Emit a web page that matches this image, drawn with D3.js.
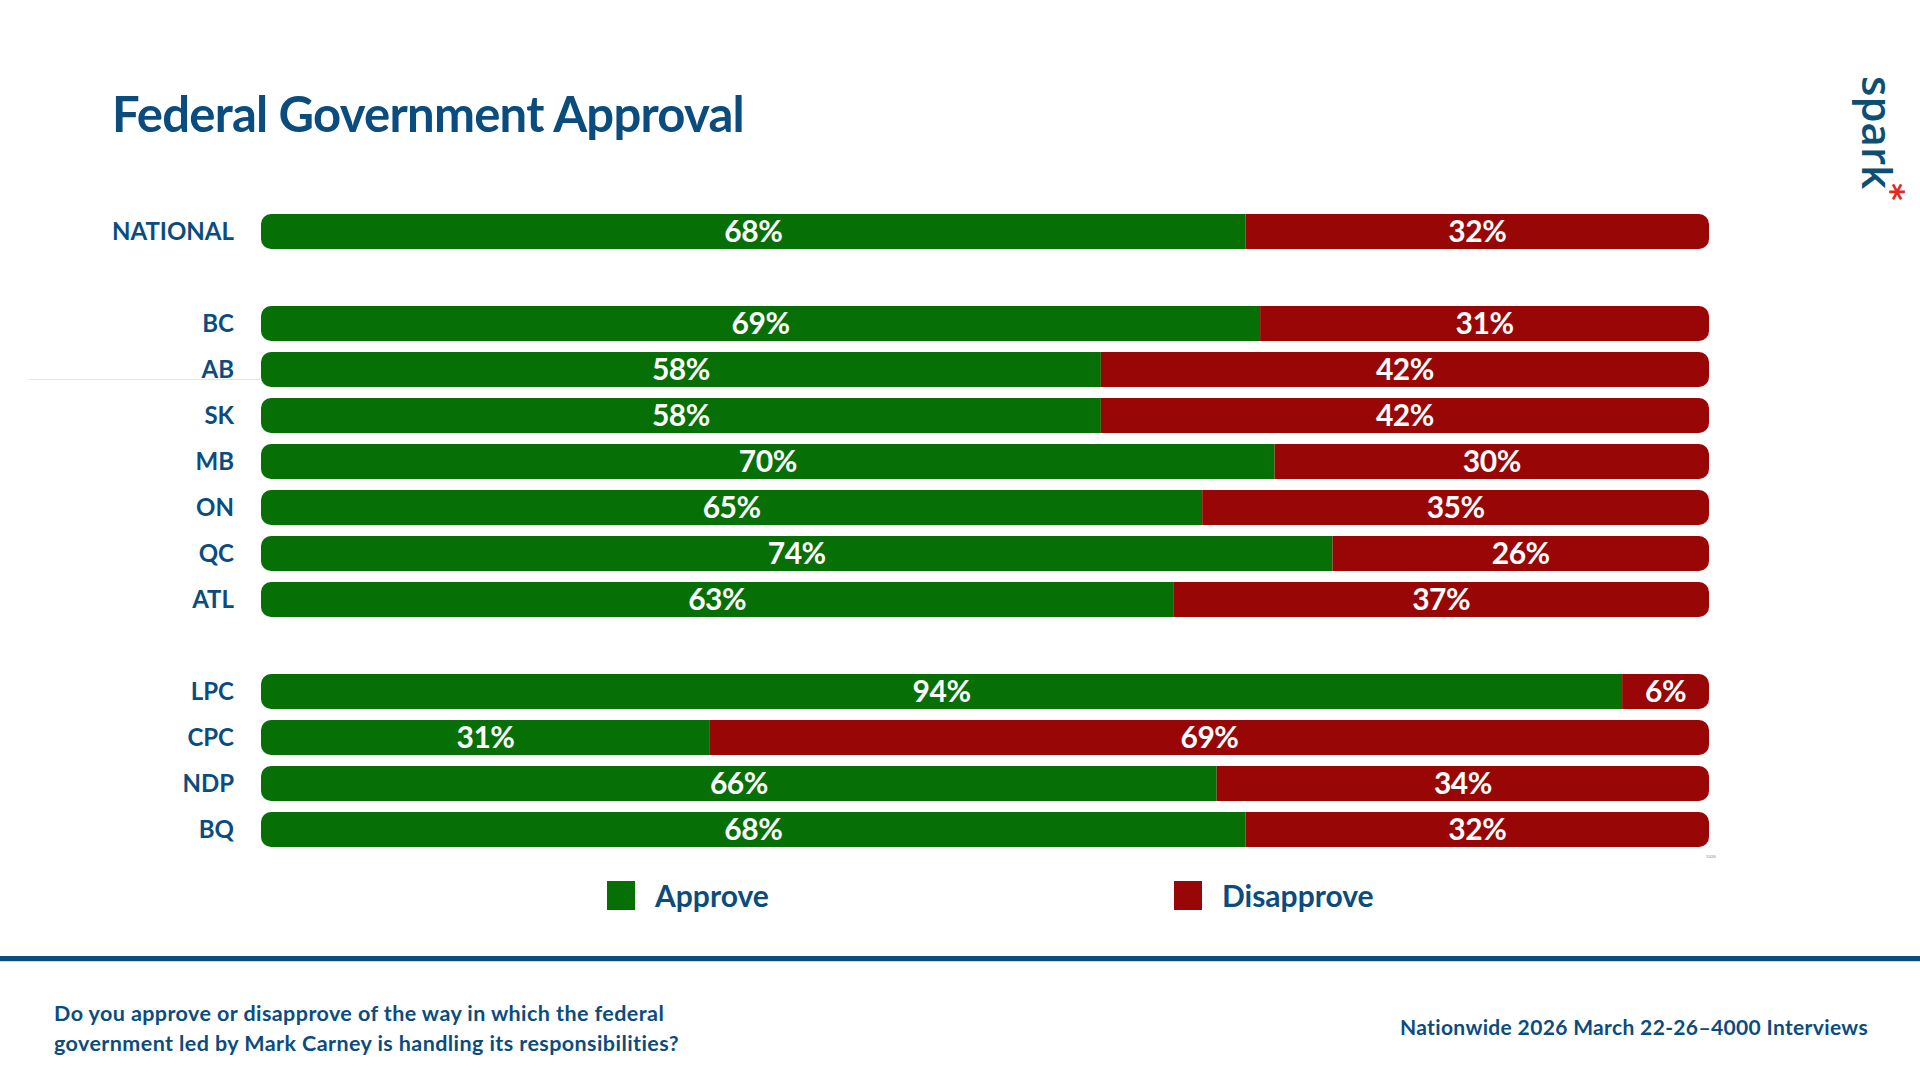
<!DOCTYPE html>
<html>
<head>
<meta charset="utf-8">
<script src="https://cdn.jsdelivr.net/npm/d3@7"></script>
<style>
  body { margin: 0; background: #fff; }
  svg { display: block; }
</style>
</head>
<body>
<svg id="chart"></svg>
<script>
// chart values
const categories = ["NATIONAL", "BC", "AB", "SK", "MB", "ON", "QC", "ATL", "LPC", "CPC", "NDP", "BQ"];
const approve = [68, 69, 58, 58, 70, 65, 74, 63, 94, 31, 66, 68];
const disapprove = [32, 31, 42, 42, 30, 35, 26, 37, 6, 69, 34, 32];
// row slots, with blank spacers between groups
const slots = ["NATIONAL", "_gap1", "BC", "AB", "SK", "MB", "ON", "QC", "ATL", "_gap2", "LPC", "CPC", "NDP", "BQ"];
const seriesNames = ["Approve", "Disapprove"];

const W = 1920, H = 1080;
const navy = "#0b4c7e";
const green = "#067006";
const red = "#990606";
const barH = 35;

const svg = d3.select("#chart").attr("width", W).attr("height", H);

const x = d3.scaleLinear().domain([0, 100]).range([261, 1709]);
const y = d3.scalePoint().domain(slots).range([231.5, 829.5]);
const color = d3.scaleOrdinal().domain(seriesNames).range([green, red]);

// title
svg.append("text")
  .attr("x", 112).attr("y", 132)
  .attr("fill", navy)
  .style("font-family", "Lato, sans-serif")
  .style("font-weight", 700)
  .style("font-size", "49px")
  .style("letter-spacing", "-0.75px")
  .text("Federal Government Approval");

// faint stray line next to AB
svg.append("line")
  .attr("x1", 29).attr("x2", 260).attr("y1", 379.5).attr("y2", 379.5)
  .attr("stroke", "#e2e4ea").attr("stroke-width", 1);

const rows = categories.map((c, i) => ({ cat: c, approve: approve[i], disapprove: disapprove[i] }));

const defs = svg.append("defs");
rows.forEach((d, i) => {
  defs.append("clipPath").attr("id", "clip" + i)
    .append("rect")
    .attr("x", x(0)).attr("y", y(d.cat) - barH / 2)
    .attr("width", x(100) - x(0)).attr("height", barH)
    .attr("rx", 10).attr("ry", 10);
});

const rowG = svg.append("g").selectAll("g")
  .data(rows)
  .join("g")
  .attr("clip-path", (d, i) => "url(#clip" + i + ")");

rowG.each(function (d) {
  const g = d3.select(this);
  const segs = [
    { name: "Approve", x0: 0, x1: d.approve, v: d.approve },
    { name: "Disapprove", x0: d.approve, x1: d.approve + d.disapprove, v: d.disapprove }
  ];
  g.selectAll("rect").data(segs).join("rect")
    .attr("x", s => x(s.x0))
    .attr("width", s => x(s.x1) - x(s.x0))
    .attr("y", y(d.cat) - barH / 2)
    .attr("height", barH)
    .attr("fill", s => color(s.name));
  g.selectAll("text").data(segs).join("text")
    .attr("x", s => (x(s.x0) + x(s.x1)) / 2)
    .attr("y", y(d.cat))
    .attr("dy", "0.36em")
    .attr("text-anchor", "middle")
    .attr("fill", "#fff")
    .style("font-family", "Lato, sans-serif")
    .style("font-weight", 700)
    .style("font-size", "30px")
    .style("letter-spacing", "-0.5px")
    .text(s => s.v + "%");
});

// category labels
svg.append("g").selectAll("text")
  .data(categories)
  .join("text")
  .attr("x", 234)
  .attr("y", d => y(d))
  .attr("dy", "0.36em")
  .attr("text-anchor", "end")
  .attr("fill", navy)
  .style("font-family", "Lato, sans-serif")
  .style("font-weight", 700)
  .style("font-size", "24px")
  .text(d => d);

// tiny tick label under the bars
svg.append("text")
  .attr("x", 1711).attr("y", 858)
  .attr("text-anchor", "middle")
  .attr("fill", "#a08a80")
  .style("font-family", "Lato, sans-serif")
  .style("font-size", "4px")
  .text("100%");

// legend
const legendX = [607, 1174];
const leg = svg.append("g").selectAll("g")
  .data(seriesNames)
  .join("g")
  .attr("transform", (d, i) => "translate(" + legendX[i] + ",881)");
leg.append("rect").attr("width", 28).attr("height", 29).attr("fill", d => color(d));
leg.append("text")
  .attr("x", 48).attr("y", 15).attr("dy", "0.36em")
  .attr("fill", navy)
  .style("font-family", "Lato, sans-serif")
  .style("font-weight", 700)
  .style("font-size", "30px")
  .text(d => d);

// footer rule
svg.append("rect").attr("x", 0).attr("y", 956).attr("width", W).attr("height", 5).attr("fill", navy);
svg.append("rect").attr("x", 0).attr("y", 961).attr("width", W).attr("height", 1).attr("fill", "#c9d8e6");

// question text
const question = [
  "Do you approve or disapprove of the way in which the federal",
  "government led by Mark Carney is handling its responsibilities?"
];
svg.append("g").selectAll("text")
  .data(question)
  .join("text")
  .attr("x", 54)
  .attr("y", (d, i) => 1021 + i * 30)
  .attr("fill", navy)
  .style("font-family", "Lato, sans-serif")
  .style("font-weight", 700)
  .style("font-size", "21.5px")
  .style("letter-spacing", "0.42px")
  .text(d => d);

svg.append("text")
  .attr("x", 1868).attr("y", 1035)
  .attr("text-anchor", "end")
  .attr("fill", navy)
  .style("font-family", "Lato, sans-serif")
  .style("font-weight", 700)
  .style("font-size", "21px")
  .style("letter-spacing", "0.35px")
  .text("Nationwide 2026 March 22-26\u20134000 Interviews");

// logo
svg.append("text")
  .attr("transform", "translate(1862,76) rotate(90)")
  .attr("fill", "#0d4f73")
  .style("font-family", "'Open Sans', sans-serif")
  .style("font-weight", 600)
  .style("font-size", "42px")
  .text("spark");
svg.append("text")
  .attr("transform", "translate(1905,192) rotate(90)")
  .attr("text-anchor", "middle")
  .attr("fill", "#e42a1f")
  .style("font-family", "'DejaVu Sans', sans-serif")
  .style("font-weight", 700)
  .style("font-size", "34px")
  .attr("dy", "0.75em")
  .text("*");
</script>
</body>
</html>
